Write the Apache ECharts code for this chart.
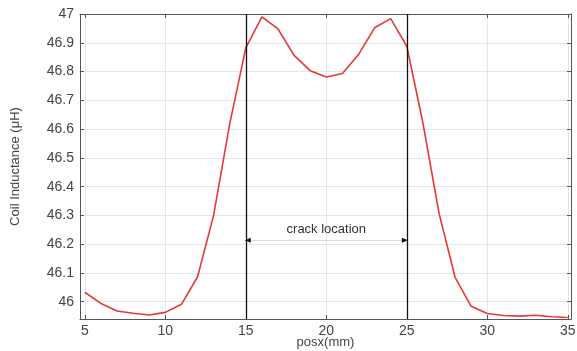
<!DOCTYPE html>
<html>
<head>
<meta charset="utf-8">
<script src="https://cdn.jsdelivr.net/npm/echarts@6/dist/echarts.min.js"></script>
<style>
  html, body { margin: 0; padding: 0; background: #fff; }
  #chart { width: 577px; height: 351px; }
</style>
</head>
<body>
<div id="chart"></div>
<script>
// posx in mm, one sample per mm
const posx = [5, 6, 7, 8, 9, 10, 11, 12, 13, 14, 15, 16, 17, 18, 19, 20,
  21, 22, 23, 24, 25, 26, 27, 28, 29, 30, 31, 32, 33, 34, 35];
// coil inductance in uH
const inductance = [46.033, 45.994, 45.968, 45.960, 45.954, 45.963, 45.991, 46.086, 46.300, 46.618, 46.882,
  46.990, 46.948, 46.856, 46.803, 46.781, 46.793, 46.859, 46.952, 46.984, 46.888,
  46.622, 46.308, 46.085, 45.984, 45.959, 45.952, 45.950, 45.953, 45.948, 45.945];

const xTicks = [5, 10, 15, 20, 25, 30, 35];
const yTicks = [46, 46.1, 46.2, 46.3, 46.4, 46.5, 46.6, 46.7, 46.8, 46.9, 47];
const crackEdges = [15, 25];
const arrowLevel = 46.214;

const font = 'Liberation Sans, Arial, sans-serif';
const txt = '#444';
const frame = '#555';

const chart = echarts.init(document.getElementById('chart'));

const axisX = (show) => ({
  type: 'value',
  min: 4.7,
  max: 35.2,
  position: show ? 'bottom' : 'top',
  axisLine: { show: true, onZero: false, lineStyle: { color: frame, width: 1 } },
  axisTick: { show: true, inside: true, length: 4, customValues: xTicks, lineStyle: { color: frame } },
  axisLabel: { show: show, customValues: xTicks, color: txt, fontFamily: font, fontSize: 14, margin: 5 },
  splitLine: { show: show, lineStyle: { color: '#e6e6e6', width: 1 } },
  name: show ? 'posx(mm)' : '',
  nameLocation: 'middle',
  nameGap: 17,
  nameMoveOverlap: false,
  nameTextStyle: { color: txt, fontFamily: font, fontSize: 13 }
});

const axisY = (show) => ({
  type: 'value',
  min: 45.94,
  max: 47,
  position: show ? 'left' : 'right',
  axisLine: { show: true, onZero: false, lineStyle: { color: frame, width: 1 } },
  axisTick: { show: true, inside: true, length: 4, customValues: yTicks, lineStyle: { color: frame } },
  axisLabel: { show: show, customValues: yTicks, color: txt, fontFamily: font, fontSize: 14, margin: 6 },
  splitLine: { show: show, lineStyle: { color: '#e6e6e6', width: 1 } },
  name: show ? 'Coil Inductance (\u03bcH)' : '',
  nameLocation: 'middle',
  nameGap: 58,
  nameMoveOverlap: false,
  nameTextStyle: { color: txt, fontFamily: font, fontSize: 13 }
});

chart.setOption({
  animation: false,
  backgroundColor: '#fff',
  grid: { left: 80, right: 6, top: 14, bottom: 32, outerBoundsMode: 'none', containLabel: false },
  xAxis: [axisX(true), axisX(false)],
  yAxis: [axisY(true), axisY(false)],
  series: [
    {
      type: 'line',
      data: posx.map((x, i) => [x, inductance[i]]),
      showSymbol: false,
      lineStyle: { color: '#e53935', width: 1.6 },
      markLine: {
        silent: true,
        symbol: ['none', 'none'],
        label: { show: false },
        lineStyle: { color: '#111', width: 1.3, type: 'solid' },
        data: crackEdges.map(v => ({ xAxis: v })).concat([[
          { coord: [crackEdges[0], arrowLevel], lineStyle: { color: '#d0d0d0', width: 0.8 } },
          {
            coord: [crackEdges[1], arrowLevel],
            label: {
              show: true, position: 'middle', formatter: 'crack location',
              color: '#333', fontFamily: font, fontSize: 13, distance: 4
            }
          }
        ]])
      },
      markPoint: {
        silent: true,
        label: { show: false },
        itemStyle: { color: '#111' },
        data: [
          { coord: [crackEdges[0] + 0.12, arrowLevel], symbol: 'triangle', symbolSize: [5, 6], symbolRotate: 90 },
          { coord: [crackEdges[1] - 0.12, arrowLevel], symbol: 'triangle', symbolSize: [5, 6], symbolRotate: -90 }
        ]
      }
    }
  ]
});
</script>
</body>
</html>
